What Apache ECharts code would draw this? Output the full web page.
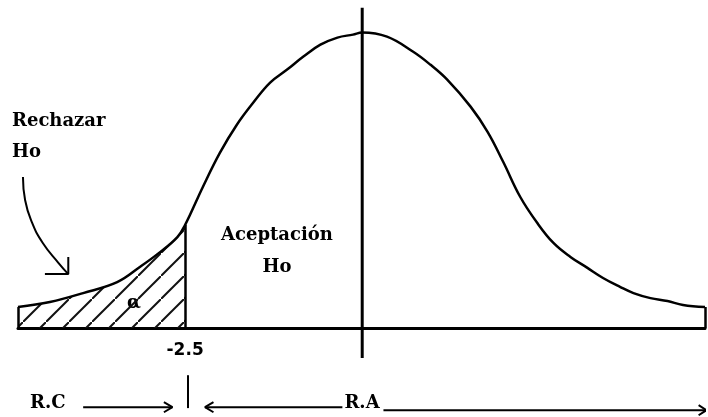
<!DOCTYPE html>
<html>
<head>
<meta charset="utf-8">
<script src="https://cdn.jsdelivr.net/npm/echarts@6/dist/echarts.min.js"></script>
<style>
  html, body { margin: 0; padding: 0; background: #fff; }
  #chart { width: 708px; height: 417px; }
</style>
</head>
<body>
<div id="chart"></div>
<script>
// curve: z position and relative height
const zValues = [-4.86, -4.41, -3.94, -3.46, -3.14, -2.85, -2.61, -2.5, -2.25, -2.01, -1.77, -1.54, -1.3, -1.06, -0.83, -0.59, -0.35, -0.13, 0,
  0.35, 0.72, 0.96, 1.2, 1.53, 1.77, 1.99, 2.23, 2.47, 2.7, 2.94, 3.18, 3.4, 3.64, 3.83, 4.07, 4.31, 4.53, 4.84]
const density = [0.071, 0.088, 0.118, 0.155, 0.206, 0.257, 0.307, 0.348, 0.476, 0.591, 0.686, 0.76, 0.828, 0.872, 0.916, 0.956, 0.98, 0.99, 0.997,
  0.983, 0.932, 0.889, 0.838, 0.747, 0.662, 0.561, 0.443, 0.355, 0.287, 0.24, 0.203, 0.169, 0.139, 0.118, 0.101, 0.091, 0.078, 0.071]
const critical = -2.5
const criticalLabel = '-2.5'

// annotation strokes (data coordinates)
const centerLine = [[0, 1.081], [0, -0.101]]
const arrowRechazar = [[-4.79, 0.51], [-4.76, 0.432], [-4.66, 0.355], [-4.51, 0.287], [-4.29, 0.22], [-4.15, 0.182]]
const arrowRechazarHead = [[-4.15, 0.24], [-4.15, 0.182], [-4.48, 0.182]]
const rcArrow = [[-3.94, -0.267], [-2.68, -0.267]]
const rcHead = [[-2.8, -0.25], [-2.68, -0.267], [-2.8, -0.284]]
const rcTick = [[-2.46, -0.159], [-2.46, -0.27]]
const raLeft = [[-0.28, -0.267], [-2.22, -0.267]]
const raLeftHead = [[-2.1, -0.25], [-2.22, -0.267], [-2.1, -0.284]]
const raRight = [[0.3, -0.277], [4.86, -0.277]]
const raRightHead = [[4.75, -0.26], [4.86, -0.277], [4.75, -0.294]]

const curve = zValues.map((z, i) => [z, density[i]])
const critIdx = zValues.indexOf(critical)
const tail = curve.slice(0, critIdx + 1).concat([[critical, 0]])

// diagonal hatch tile
function hatchPattern(size) {
  const c = document.createElement('canvas')
  c.width = size
  c.height = size
  const ctx = c.getContext('2d')
  ctx.strokeStyle = '#111'
  ctx.lineWidth = 2
  ctx.beginPath()
  ctx.moveTo(-2, size + 2)
  ctx.lineTo(size + 2, -2)
  ctx.stroke()
  return c
}

function stroke(data, width, smooth) {
  return {
    type: 'line',
    data: data,
    symbol: 'none',
    smooth: smooth || false,
    clip: false,
    silent: true,
    z: 5,
    lineStyle: { color: '#000', width: width }
  }
}

const chart = echarts.init(document.getElementById('chart'))
const serif = 'bold 18px "DejaVu Serif"'

chart.setOption({
  animation: false,
  backgroundColor: '#fff',
  grid: { left: 18, right: 3, top: 2, bottom: 0, outerBoundsMode: 'none', containLabel: false },
  xAxis: {
    type: 'value',
    min: zValues[0],
    max: zValues[zValues.length - 1],
    axisLine: { show: true, onZero: true, lineStyle: { color: '#000', width: 3 } },
    axisTick: { show: false },
    splitLine: { show: false },
    axisLabel: { show: false }
  },
  yAxis: { type: 'value', min: -0.3, max: 1.1, show: false },
  series: [
    {
      type: 'line',
      data: tail,
      symbol: 'none',
      silent: true,
      z: 2,
      lineStyle: { opacity: 0 },
      areaStyle: { color: { image: hatchPattern(23), repeat: 'repeat' }, opacity: 1 }
    },
    {
      type: 'line',
      data: curve,
      symbol: 'none',
      smooth: 0.4,
      silent: true,
      z: 4,
      lineStyle: { color: '#000', width: 2.5 },
      markLine: {
        silent: true,
        symbol: 'none',
        label: { show: false },
        lineStyle: { color: '#000', width: 2.5, type: 'solid' },
        data: [
          [{ coord: [zValues[0], 0] }, { coord: [zValues[0], density[0]] }],
          [{ coord: [zValues[zValues.length - 1], 0] }, { coord: [zValues[zValues.length - 1], density[density.length - 1]] }],
          [
            {
              coord: [critical, 0],
              label: {
                show: true,
                position: 'start',
                distance: 14,
                formatter: criticalLabel,
                color: '#000',
                fontFamily: 'DejaVu Sans',
                fontWeight: 'bold',
                fontSize: 17
              }
            },
            { coord: [critical, density[critIdx]] }
          ]
        ]
      }
    },
    stroke(centerLine, 3),
    stroke(arrowRechazar, 2, true),
    stroke(arrowRechazarHead, 2),
    stroke(rcArrow, 2),
    stroke(rcHead, 2),
    stroke(rcTick, 2),
    stroke(raLeft, 2),
    stroke(raLeftHead, 2),
    stroke(raRight, 2),
    stroke(raRightHead, 2)
  ],
  graphic: [
    { type: 'text', left: 12, top: 112, style: { text: 'Rechazar', font: serif, fill: '#000' } },
    { type: 'text', left: 12, top: 143, style: { text: 'Ho', font: serif, fill: '#000' } },
    { type: 'text', x: 277, y: 235, style: { text: 'Aceptación', font: serif, fill: '#000', align: 'center', verticalAlign: 'middle' } },
    { type: 'text', x: 277, y: 267, style: { text: 'Ho', font: serif, fill: '#000', align: 'center', verticalAlign: 'middle' } },
    { type: 'text', x: 134, y: 303, style: { text: 'α', font: serif, fill: '#000', align: 'center', verticalAlign: 'middle' } },
    { type: 'text', x: 30, y: 403, style: { text: 'R.C', font: serif, fill: '#000', verticalAlign: 'middle' } },
    { type: 'text', x: 362, y: 403, style: { text: 'R.A', font: serif, fill: '#000', align: 'center', verticalAlign: 'middle' } }
  ]
})
</script>
</body>
</html>
